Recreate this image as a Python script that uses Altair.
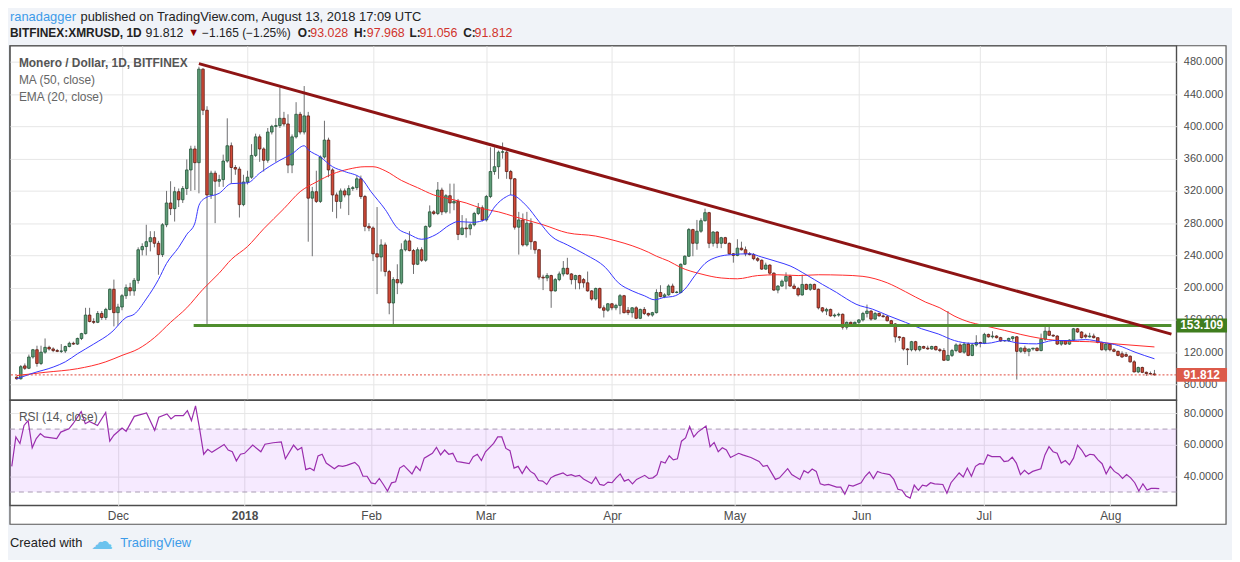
import calendar
import altair as alt
import pandas as pd

FONT = "Liberation Sans"
W, H_HEAD, H_MAIN, H_RSI = 1175, 35, 357, 106

# ---------------- data ----------------
# daily candles, first day 2017-11-05, last day 2018-08-13
open_ = [89, 87, 103, 100, 114, 123, 106, 120, 126, 124,
         122, 121, 121.5, 127, 131, 130, 137, 143, 166, 158,
         157, 168, 163, 173, 198, 169, 176, 190, 200, 196,
         209, 247, 251, 257, 262, 255, 241, 278, 305, 298,
         319, 309, 323, 346, 372, 355, 471, 420, 315, 342,
         332, 334, 357, 376, 349, 347, 303, 331, 337, 364,
         387, 372, 358, 393, 400, 401, 410, 403, 352, 387,
         415, 393, 413, 311, 319, 307, 362, 383, 346, 315,
         307, 320, 315, 323, 324, 335, 313, 276, 274, 242,
         238, 253, 220, 181, 210, 206, 247, 258, 246, 229,
         247, 234, 276, 294, 292, 321, 294, 314, 305, 307,
         266, 274, 273, 278, 292, 299, 284, 313, 344, 350,
         368, 368, 344, 335, 275, 284, 253, 280, 257, 247,
         213, 212, 215, 196, 210, 217, 224, 217, 210, 215,
         210, 206, 196, 186, 199, 175, 172, 180, 175, 178,
         190, 172, 169, 175, 162, 173, 168, 166, 169, 194,
         189, 191, 202, 194, 194, 229, 239, 272, 255, 270,
         283, 293, 255, 269, 255, 262, 255, 242, 240, 249,
         247, 242, 241, 236, 234, 223, 228, 218, 197, 202,
         208, 214, 202, 199, 191, 204, 198, 204, 198, 175,
         171, 173, 165, 166, 167, 151, 157, 155, 157, 160,
         168, 171, 161, 168, 165, 164, 159, 155, 139, 138,
         124, 123, 133, 123, 127, 125, 124, 127, 123, 122,
         110, 116, 122, 129, 120, 130, 116, 129, 132, 131,
         142, 139, 140, 138, 134, 134.5, 137, 139, 121, 125,
         121, 124, 125, 122, 136, 146, 141, 140, 130, 134,
         130, 135, 149, 145, 141, 139, 140, 138, 132, 123,
         130, 123, 121, 118, 117, 115, 108, 95.5, 101, 95,
         93.5, 93.028]
high_ = [90, 104, 106, 117, 124, 128, 128, 137, 128, 126,
         124, 130, 128, 133, 133, 138, 144, 175, 175, 162,
         171, 171, 175, 199, 210, 180, 192, 204, 206, 212,
         250, 255, 278, 270, 270, 258, 280, 320, 332, 325,
         323, 326, 359, 376, 376, 474, 472, 425, 345, 345,
         340, 365, 410, 380, 352, 350, 340, 345, 378, 391,
         390, 374, 398, 402, 410, 448, 418, 415, 390, 430,
         418, 450, 418, 325, 345, 364, 407, 386, 348, 318,
         323, 323, 327, 326, 339, 339, 315, 280, 276, 300,
         260, 256, 222, 213, 229, 255, 260, 270, 248, 250,
         250, 277, 302, 296, 331, 324, 316, 329, 329, 310,
         290, 286, 280, 294, 305, 302, 315, 374, 374, 370,
         380, 370, 346, 336, 294, 292, 294, 286, 258, 248,
         216, 218, 216, 212, 220, 233, 237, 218, 216, 216,
         212, 220, 197, 200, 200, 178, 181, 181, 180, 192,
         191, 176, 176, 177, 174, 176, 169, 170, 198, 203,
         193, 204, 205, 196, 230, 240, 274, 273, 284, 286,
         298, 294, 270, 270, 263, 263, 256, 243, 260, 257,
         251, 244, 243, 238, 235, 231, 229, 219, 203, 210,
         219, 216, 205, 201, 216, 205, 205, 205, 199, 176,
         175, 174, 168, 169, 168, 158, 158, 158, 161, 170,
         179, 172, 170, 169, 167, 166, 160, 156, 140, 139,
         125, 134, 134, 128, 128, 128, 128, 128, 125, 125,
         171, 124, 131, 131, 132, 132, 131, 141, 133, 144,
         143, 146, 141, 139, 135, 138, 140, 140, 126, 128,
         124, 125, 126, 143, 152, 152, 142, 141, 135, 135,
         136, 150, 150, 146, 143, 144, 143, 138, 133, 131,
         131, 125, 122, 121, 120, 116, 110, 102, 102, 96,
         96, 97.968]
low_ = [86, 86, 98, 99, 112, 102, 104, 118, 122, 120,
        120, 119, 119, 126, 129, 129, 135, 142, 157, 155,
        156, 160, 160, 172, 152, 153, 172, 186, 190, 190,
        205, 240, 240, 245, 250, 216, 238, 275, 290, 282,
        300, 305, 315, 320, 321, 317, 414, 155, 310, 280,
        325, 325, 355, 329, 340, 287, 301, 328, 335, 362,
        356, 344, 355, 390, 356, 398, 400, 342, 342, 385,
        390, 390, 257, 239, 305, 305, 360, 337, 294, 286,
        298, 312, 290, 320, 321, 310, 270, 270, 233, 192,
        220, 214, 167, 153, 192, 204, 245, 245, 217, 228,
        232, 232, 274, 290, 290, 290, 292, 292, 296, 259,
        265, 262, 265, 276, 290, 282, 282, 311, 340, 335,
        360, 335, 315, 272, 241, 251, 251, 247, 242, 210,
        197, 208, 175, 195, 208, 214, 216, 204, 198, 198,
        200, 195, 184, 184, 174, 163, 170, 172, 172, 167,
        168, 166, 163, 161, 161, 166, 164, 164, 168, 188,
        187, 190, 193, 193, 193, 228, 238, 239, 247, 268,
        282, 249, 251, 249, 249, 254, 241, 231, 239, 246,
        239, 240, 234, 232, 222, 222, 216, 196, 193, 201,
        198, 201, 198, 189, 190, 197, 196, 197, 173, 169,
        166, 164, 163, 164, 148, 148, 154, 153, 155, 158,
        163, 159, 160, 164, 163, 158, 154, 132, 134, 122,
        104, 121, 121, 121, 124, 123, 123, 122, 120, 109,
        109, 114, 120, 119, 118, 115, 115, 127, 126, 130,
        138, 137, 137, 133, 133, 133, 134, 86, 119, 118,
        115, 122, 121, 121, 134, 140, 139, 129, 128, 129,
        129, 134, 144, 137, 137, 138, 137, 131, 122, 121,
        121, 120, 115, 113, 114, 107, 95, 94, 94, 90.5,
        92, 91.056]
close_ = [87, 102, 100, 114, 123, 106, 120, 126, 124, 122,
          121, 121.5, 127, 131, 130, 137, 143, 166, 158, 157,
          168, 163, 173, 198, 169, 176, 190, 200, 196, 209,
          247, 251, 257, 262, 255, 241, 278, 305, 298, 319,
          309, 323, 346, 372, 355, 471, 420, 315, 342, 332,
          334, 357, 376, 349, 347, 303, 331, 337, 364, 387,
          372, 358, 393, 400, 401, 410, 403, 352, 387, 415,
          393, 413, 311, 319, 307, 362, 383, 346, 315, 307,
          320, 315, 323, 324, 335, 313, 276, 274, 242, 238,
          253, 220, 181, 210, 206, 247, 258, 246, 229, 247,
          234, 276, 294, 292, 321, 294, 314, 305, 307, 266,
          274, 273, 278, 292, 299, 284, 313, 344, 350, 368,
          368.5, 344, 335, 275, 284, 253, 280, 257, 247, 213,
          212, 215, 196, 210, 217, 224, 217, 210, 215, 206,
          206, 196, 186, 199, 175, 172, 180, 175, 178, 190,
          169, 169, 175, 162, 173, 168, 166, 169, 194, 189,
          191, 202, 194, 194.5, 229, 239, 272, 255, 270, 283,
          293, 255, 269, 255, 262, 255, 242, 240, 249, 247,
          242, 241, 236, 234, 223, 228, 218, 197, 202, 208,
          214, 202, 199, 191, 204, 198, 204, 198, 175, 171,
          173, 165, 166, 167, 151, 157, 155, 157, 160, 168,
          171, 161, 168, 165, 164, 159, 155, 139, 138, 124,
          123, 133, 123, 127, 125, 124, 127, 123, 122, 110,
          116, 122, 129, 120, 130, 116, 129, 132, 131, 142,
          139, 140, 138, 134, 134.5, 137, 139, 121, 125, 121,
          124, 125, 122, 136, 146, 141, 140, 130, 134, 130,
          135, 149, 145, 138, 139, 140, 138, 132, 123, 130,
          123, 121, 116, 114, 115, 108, 95.5, 101, 95, 93.5,
          92.977, 91.812]

# MA(50) and EMA(20) lines: day offset from 2017-11-05, value
ma_day = [0, 7, 15, 22, 26, 30, 34, 38, 42, 46, 50, 53, 57, 61, 66, 70, 74, 78, 82, 86,
          88, 91, 95, 99, 103, 107, 111, 115, 119, 123, 130, 136, 143, 148, 152, 156, 158,
          161, 164, 169, 174, 178, 183, 188, 193, 198, 204, 209, 215, 219.5, 224.5, 228,
          231.5, 235.5, 238, 244, 248, 253, 260, 265, 272, 281]
ma_val = [91, 95, 99.5, 108, 116, 124, 138, 157, 175, 198, 218, 235, 251, 273, 298, 319, 331,
          341, 347, 350, 350, 345, 333, 324, 315, 310, 305, 298, 294, 288, 278, 268, 264, 258,
          252, 244, 239, 233, 225, 217, 212, 211, 215, 216, 215, 216, 215.5, 214, 206, 195,
          182, 175, 165, 157, 154, 147, 142, 137, 133.5, 133, 130, 126.5]
ema_day = [0, 4, 9, 12, 15, 19, 23.5, 27, 29, 32, 35, 37, 40, 42, 44, 45, 46.5, 50, 53, 57,
           60, 65, 68, 71, 72, 75, 78, 81, 85, 87.5, 91, 94, 97, 100, 103.6, 107, 109, 112.6,
           116, 118, 121, 122, 126, 129, 132, 136, 140.5, 145.4, 148.6, 152, 155, 157.5, 160,
           162, 165, 167.5, 170, 173, 176.5, 181, 184, 188, 191, 195, 199, 202.5, 205, 207.3,
           211.4, 215.4, 219.5, 223.5, 227.6, 231.6, 235.7, 239.7, 243.8, 247.8, 251.9,
           255.9, 260, 264, 268.1, 272.1, 276.2, 281]
ema_val = [87, 94, 101.5, 108, 118, 130, 145, 163, 167, 186, 210, 230, 250, 266, 280, 302,
           311, 317, 329, 330, 342, 358, 366, 376, 371, 362, 350, 344, 336, 319, 297, 274,
           266, 260, 266, 278, 282, 281, 285, 300, 313, 315, 301, 282, 264, 253, 241, 225,
           206, 196, 190, 185, 188, 189, 198, 215, 230, 238, 241, 242, 238, 232, 227, 216,
           204, 194, 186, 179.5, 173.3, 165, 157, 149, 142.6, 134.4, 131, 131, 134.4, 131,
           130.3, 134.4, 134.4, 135.6, 132.3, 128.2, 120, 111.8]

# RSI(14): day offset, value
rsi_day = [0, 1, 2, 3, 4, 5, 6, 7, 8, 11, 12, 14, 15, 17, 18, 19, 21, 23, 24, 25, 27, 28, 30,
           33, 35, 36, 38, 39, 40, 42, 43, 44, 45, 46, 47, 48, 49, 52, 53, 54, 55, 56, 57, 59,
           61, 62, 64, 66, 67, 69, 70, 71, 72, 73, 74, 75, 76, 77, 79, 80, 81, 82, 84, 85, 86,
           87, 88, 89, 90, 91, 92, 93, 94, 95, 96, 98, 99, 100, 101, 103, 104, 105, 106, 107,
           108, 109, 110, 112, 113, 114, 115, 116, 118, 119, 120, 121, 122, 123, 124, 125,
           126, 127, 128, 129, 130, 131, 132, 133, 135, 136, 137, 138, 139, 140, 142, 143,
           144, 145, 146, 147, 148, 149, 150, 151, 152, 153, 155, 156, 157, 158, 159, 160,
           161, 162, 163, 164, 165, 166, 167, 168, 170, 171, 172, 173, 174, 175, 176, 178,
           179, 181, 183, 184, 185, 187, 188, 190, 191, 193, 194, 195, 196, 197, 198, 199,
           200, 202, 203, 204, 205, 206, 208, 209, 210, 211, 212, 213, 215, 216, 217, 218,
           219, 220, 221, 222, 223, 224, 225, 226, 228, 229, 230, 232, 233, 234, 235, 236,
           237, 238, 239, 240, 242, 243, 244, 245, 246, 247, 248, 249, 250, 252, 253, 254,
           255, 256, 257, 258, 259, 260, 261, 262, 263, 264, 265, 266, 267, 268, 269, 270,
           271, 272, 273, 274, 275, 276, 277, 278, 279, 280, 281]
rsi_val = [46.3, 65.0, 60.8, 72.3, 75.4, 58.1, 64.0, 67.1, 65.0, 64.0, 68.1, 70.2, 73.4, 81.1,
           73.4, 74.8, 72.3, 80.6, 62.3, 66.1, 70.6, 68.6, 78.1, 80.2, 69.2, 77.5, 79.6, 76.5,
           78.6, 78.6, 81.7, 75.4, 84.8, 70.2, 54.0, 57.1, 55.2, 60.2, 56.7, 55.6, 49.8, 54.0,
           54.6, 59.8, 55.6, 60.4, 61.3, 61.9, 51.1, 59.8, 56.7, 58.3, 44.2, 45.2, 43.6, 53.0,
           54.0, 48.4, 44.8, 46.7, 46.3, 46.9, 48.8, 46.3, 40.0, 40.0, 35.8, 35.2, 38.6, 34.8,
           30.6, 35.8, 36.5, 45.2, 46.9, 41.5, 46.3, 43.6, 51.5, 54.6, 58.4, 53.6, 56.7, 54.0,
           54.6, 49.4, 49.0, 48.0, 52.5, 54.0, 50.0, 55.6, 60.9, 65.0, 65.0, 57.7, 56.3, 45.2,
           46.3, 41.7, 46.3, 43.1, 41.5, 37.3, 36.9, 34.8, 39.0, 40.4, 42.1, 40.4, 41.0, 40.0,
           40.6, 38.3, 35.4, 39.4, 34.8, 34.2, 36.3, 35.9, 39.0, 41.5, 36.9, 38.0, 35.2, 38.0,
           40.6, 38.6, 39.0, 41.0, 49.4, 48.4, 53.0, 50.4, 51.1, 62.3, 64.4, 71.7, 65.0, 68.1,
           71.9, 58.8, 61.5, 55.6, 58.1, 56.7, 51.9, 54.6, 53.6, 51.9, 49.4, 46.3, 46.9, 38.0,
           39.0, 44.8, 41.1, 38.0, 43.6, 42.1, 44.6, 43.1, 35.2, 34.4, 34.8, 33.1, 33.1, 28.6,
           34.4, 33.8, 35.9, 40.0, 42.7, 38.6, 43.1, 42.1, 41.1, 38.0, 31.7, 31.1, 27.5, 26.1,
           34.4, 31.1, 34.4, 33.8, 35.9, 35.2, 34.8, 29.2, 35.9, 42.1, 39.6, 45.2, 40.0, 46.3,
           48.0, 47.7, 53.6, 52.5, 52.5, 49.4, 49.8, 52.1, 48.4, 41.1, 43.8, 41.5, 43.1, 44.8,
           53.6, 58.8, 55.6, 54.6, 48.4, 50.0, 47.3, 51.5, 59.8, 56.7, 52.5, 54.0, 53.6, 50.4,
           48.0, 41.5, 46.3, 43.1, 41.5, 38.6, 41.1, 39.0, 35.9, 30.6, 35.2, 31.3, 32.3, 32.3,
           32.1]

# drawn lines
trend_day = [45, 285.2]
trend_val = [477.8, 142.4]
support_day = [43.7, 285.2]
support_val = [153.109, 153.109]
last_price = 91.812
price_ticks = [80, 120, 160, 200, 240, 280, 320, 360, 400, 440, 480]
rsi_ticks = [40, 60, 80]
months = [(2017, 12), (2018, 1), (2018, 2), (2018, 3), (2018, 4), (2018, 5),
          (2018, 6), (2018, 7), (2018, 8)]

# ---------------- helpers ----------------
BASE_MS = calendar.timegm((2017, 11, 5, 0, 0, 0)) * 1000
DAY_MS = 86400000


def t(d):
    return BASE_MS + d * DAY_MS


month_ms = [calendar.timegm((y, m, 1, 0, 0, 0)) * 1000 for y, m in months]

n = len(close_)
candles = pd.DataFrame({"date": [t(i) for i in range(n)], "o": open_, "h": high_,
                        "l": low_, "c": close_})
candles["lo"] = candles[["o", "c"]].min(axis=1)
candles["hi"] = candles[["o", "c"]].max(axis=1)
candles["up"] = candles["c"] >= candles["o"]

ma_df = pd.DataFrame({"date": [t(d) for d in ma_day], "v": ma_val})
ema_df = pd.DataFrame({"date": [t(d) for d in ema_day], "v": ema_val})
rsi_df = pd.DataFrame({"date": [t(d) for d in rsi_day], "v": rsi_val})
trend_df = pd.DataFrame({"date": [t(d) for d in trend_day], "v": trend_val})
support_df = pd.DataFrame({"date": [t(d) for d in support_day], "v": support_val})
one = pd.DataFrame({"a": [0]})

xs = alt.Scale(type="utc", domain=[t(-0.44), t(285.2)], nice=False)
ys = alt.Scale(domain=[60.5, 500], nice=False, zero=False)
yr = alt.Scale(domain=[21.5, 88.4], nice=False, zero=False)

GRID = "#e6e6e6"
x_axis_main = alt.Axis(values=month_ms, labels=False, ticks=False, domain=False, grid=True,
                       gridColor=GRID, title=None)
x_axis_rsi = alt.Axis(values=month_ms,
                      labelExpr="utcFormat(datum.value, utcmonth(datum.value) == 0 ? '%Y' : '%b')",
                      labelFontWeight={"condition": {"test": "utcmonth(datum.value) == 0",
                                                     "value": "bold"}, "value": "normal"},
                      labelFontSize=12, labelColor="#4d4d4d", labelPadding=5, labelFlush=False,
                      ticks=False, domain=False, grid=True, gridColor=GRID, title=None)
y_axis_main = alt.Axis(orient="right", values=price_ticks, format=".3f", labelFontSize=11,
                       labelColor="#4d4d4d", labelPadding=7, ticks=False, domain=False,
                       grid=True, gridColor=GRID, title=None)
y_axis_rsi = alt.Axis(orient="right", values=rsi_ticks, format=".4f", labelFontSize=11,
                      labelColor="#4d4d4d", labelPadding=7, ticks=False, domain=False,
                      grid=True, gridColor=GRID, title=None)


def XM(f):
    return alt.X(f, type="temporal", scale=xs, axis=x_axis_main)


def YM(f):
    return alt.Y(f, type="quantitative", scale=ys, axis=y_axis_main)


def XR(f):
    return alt.X(f, type="temporal", scale=xs, axis=x_axis_rsi)


def YR(f):
    return alt.Y(f, type="quantitative", scale=yr, axis=y_axis_rsi)


def label(s, x, y, size=12, color="#555", weight="normal", align="left"):
    return alt.Chart(one).mark_text(text=s, align=align, baseline="middle", fontSize=size,
                                    color=color, fontWeight=weight, font=FONT).encode(
        x=alt.value(x), y=alt.value(y))


# ---------------- header (page texts + chart frame) ----------------
frame = alt.Chart(one).mark_rect(fill="white", stroke="#555555", strokeWidth=1.2).encode(
    x=alt.value(0), x2=alt.value(1225), y=alt.value(H_HEAD), y2=alt.value(H_HEAD + 482))
RED = "#d0342c"
DARK = "#222222"
L1, L2 = 6.5, 22.5
header = alt.layer(
    frame,
    label("ranadagger", 0, L1, 13, "#3d9be9"),
    label("published on TradingView.com, August 13, 2018 17:09 UTC", 71, L1, 13, DARK),
    label("BITFINEX:XMRUSD, 1D", 0, L2, 12, DARK, "bold"),
    label("91.812", 136.5, L2, 12.5, DARK),
    label("▼", 179.5, L2, 11, "#8b0000"),
    label("−1.165 (−1.25%)", 193.5, L2, 12, DARK),
    label("O:", 290, L2, 12, DARK, "bold"),
    label("93.028", 302.5, L2, 12.5, RED),
    label("H:", 346.5, L2, 12, DARK, "bold"),
    label("97.968", 359.5, L2, 12.5, RED),
    label("L:", 402.5, L2, 12, DARK, "bold"),
    label("91.056", 412.5, L2, 12.5, RED),
    label("C:", 456.5, L2, 12, DARK, "bold"),
    label("91.812", 468, L2, 12.5, RED),
    label("Created with", 0, H_HEAD + 501, 13, DARK),
    label("☁", 82, H_HEAD + 500, 22, "#6cc3ee"),
    label("TradingView", 111, H_HEAD + 501, 13, "#3d9be9"),
).properties(width=W, height=H_HEAD,
             view=alt.ViewBackground(stroke="transparent", fill="transparent"))

# ---------------- main price panel ----------------
wick = alt.Chart(candles).mark_rule(color="#6e6e70", strokeWidth=1, clip=True).encode(
    x=XM("date"), y=YM("l"), y2=alt.Y2("h"))
body = alt.Chart(candles).mark_bar(width=2.6, strokeWidth=0.8, clip=True).encode(
    x=XM("date"), y=YM("lo"), y2=alt.Y2("hi"),
    fill=alt.condition(alt.datum.up, alt.value("#5f9d78"), alt.value("#d04a38")),
    stroke=alt.condition(alt.datum.up, alt.value("#225437"), alt.value("#5b1a13")))
ma_line = alt.Chart(ma_df).mark_line(color="#ff2a2a", strokeWidth=1, interpolate="monotone",
                                     clip=True).encode(x=XM("date"), y=YM("v"))
ema_line = alt.Chart(ema_df).mark_line(color="#3636ff", strokeWidth=1, interpolate="monotone",
                                       clip=True).encode(x=XM("date"), y=YM("v"))
support = alt.Chart(support_df).mark_line(color="#4f8e2e", strokeWidth=3, clip=True).encode(
    x=XM("date"), y=YM("v"))
trend = alt.Chart(trend_df).mark_line(color="#8e1414", strokeWidth=3, clip=True).encode(
    x=XM("date"), y=YM("v"))
last_df = pd.DataFrame({"v": [last_price]})
last_line = alt.Chart(last_df).mark_rule(color="#e0483a", strokeDash=[2, 2],
                                         strokeWidth=1).encode(y=YM("v"))
tags_df = pd.DataFrame({"v": [support_val[0], last_price],
                        "txt": ["153.109", "91.812"],
                        "col": ["#3f7d1e", "#dc5a4a"]})
tag_box = alt.Chart(tags_df).mark_rect(yOffset=-7, y2Offset=7).encode(
    x=alt.value(W), x2=alt.value(W + 51), y=YM("v"), y2=alt.Y2("v"),
    fill=alt.Fill("col:N", scale=None))
tag_txt = alt.Chart(tags_df).mark_text(color="white", fontSize=12, fontWeight="bold",
                                       font=FONT, align="center", baseline="middle").encode(
    x=alt.value(W + 25.5), y=YM("v"), text="txt:N")

main = alt.layer(
    wick, body, ma_line, ema_line, support, trend, last_line, tag_box, tag_txt,
    label("Monero / Dollar, 1D, BITFINEX", 9, 17.7, 12, "#555555", "bold"),
    label("MA (50, close)", 9, 34.3, 12, "#666666"),
    label("EMA (20, close)", 9, 51.3, 12, "#666666"),
).properties(width=W, height=H_MAIN)

# ---------------- RSI panel ----------------
band_df = pd.DataFrame({"hi": [70], "lo": [30]})
band = alt.Chart(band_df).mark_rect(color="#9915ff", opacity=0.09).encode(
    x=alt.value(0), x2=alt.value(W), y=YR("hi"), y2=alt.Y2("lo"))
band_lines = alt.Chart(pd.DataFrame({"v": [30, 70]})).mark_rule(
    color="#a89bb2", strokeDash=[5, 4], strokeWidth=1).encode(y=YR("v"))
rsi_line = alt.Chart(rsi_df).mark_line(color="#9a2dad", strokeWidth=1.2, clip=True).encode(
    x=XR("date"), y=YR("v"))
rsi = alt.layer(
    band, band_lines, rsi_line,
    label("RSI (14, close)", 9, 17, 12, "#555555"),
).properties(width=W, height=H_RSI)

chart = alt.vconcat(header, main, rsi, spacing=0, bounds="flush").properties(
    padding={"left": 0, "top": 0, "right": 4, "bottom": 4},
    background="#f0f3f8",
).configure(font=FONT).configure_view(
    stroke="#4d4d4d", strokeWidth=1.4, fill="white"
).configure_axis(labelFont=FONT)

chart.save("out.html", embed_options={"renderer": "svg", "actions": False})
